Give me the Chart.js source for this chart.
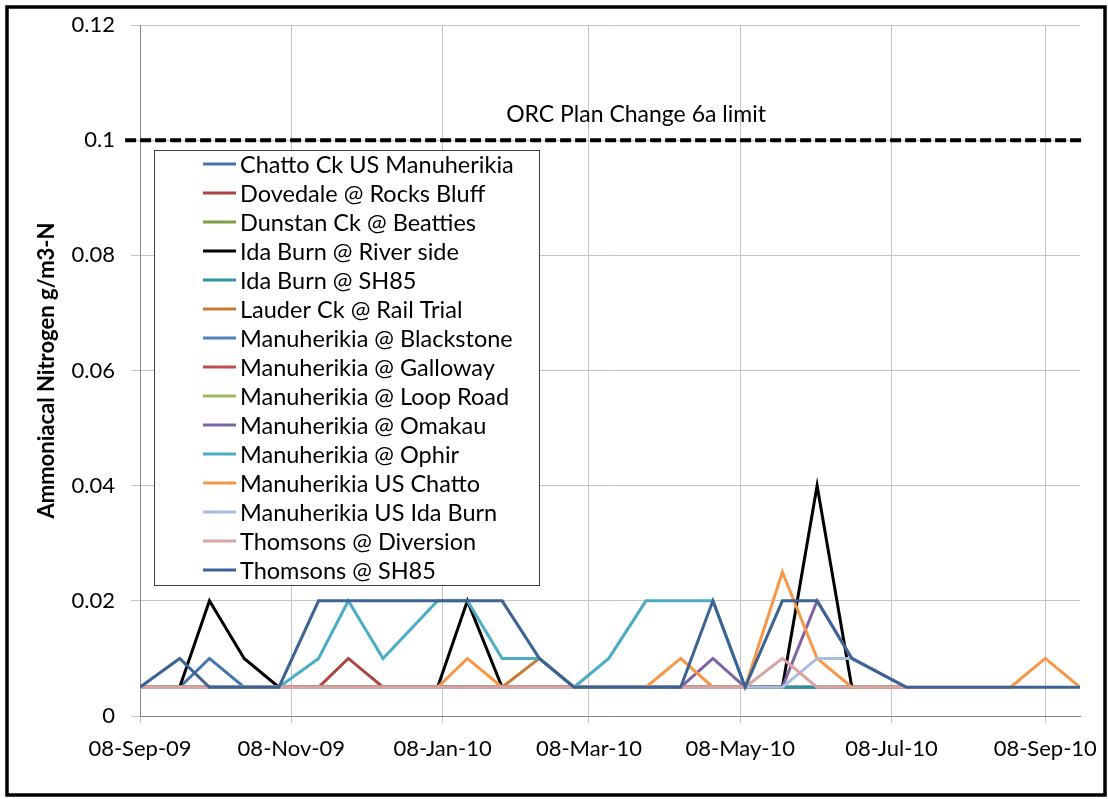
<!DOCTYPE html>
<html>
<head>
<meta charset="utf-8">
<script src="https://cdn.jsdelivr.net/npm/chart.js@4.4.1/dist/chart.umd.min.js"></script>
<style>
  html, body { margin: 0; padding: 0; background: #ffffff; }
  canvas { display: block; }
</style>
</head>
<body>
<canvas id="chart" width="1108" height="799"></canvas>
<script>
// Sampling dates (shared by every monitoring site)
const sampleDates = [
  '2009-09-08','2009-09-24','2009-10-06','2009-10-20','2009-11-03','2009-11-19',
  '2009-12-01','2009-12-15','2010-01-06','2010-01-18','2010-02-01','2010-02-16',
  '2010-03-02','2010-03-16','2010-03-31','2010-04-14','2010-04-27','2010-05-10',
  '2010-05-25','2010-06-08','2010-06-22','2010-07-14','2010-08-25','2010-09-08',
  '2010-09-22'
];

// Date axis ticks
const tickDates  = ['2009-09-08','2009-11-08','2010-01-08','2010-03-08','2010-05-08','2010-07-08','2010-09-08'];
const tickLabels = ['08-Sep-09','08-Nov-09','08-Jan-10','08-Mar-10','08-May-10','08-Jul-10','08-Sep-10'];

// Concentration axis ticks (g/m3-N)
const yTicks      = [0, 0.02, 0.04, 0.06, 0.08, 0.1, 0.12];
const yTickLabels = ['0', '0.02', '0.04', '0.06', '0.08', '0.1', '0.12'];

// Regional plan limit
const limitValue = 0.1;
const limitLabel = 'ORC Plan Change 6a limit';
const limitStart = '2009-09-02';
const limitEnd   = '2010-09-23';

// Ammoniacal nitrogen results per site (null = not sampled)
const chattoCkUsManuherikia = [null,0.005,0.01,0.005,0.005,0.005,0.005,0.005,0.005,0.005,0.005,0.005,0.005,0.005,0.005,0.005,0.005,0.005,0.005,0.005,0.005,0.005,null,null,null];
const dovedaleRocksBluff    = [0.005,0.005,0.005,0.005,0.005,0.005,0.01,0.005,0.005,0.005,0.005,0.005,0.005,0.005,0.005,0.005,0.005,0.005,0.005,0.005,0.005,0.005,null,null,null];
const dunstanCkBeatties     = [0.005,0.005,0.005,0.005,0.005,0.005,0.005,0.005,0.005,0.005,0.005,0.005,0.005,0.005,0.005,0.005,0.005,0.005,0.005,0.005,0.005,0.005,null,null,null];
const idaBurnRiverSide      = [null,0.005,0.02,0.01,0.005,0.005,0.005,0.005,0.005,0.02,0.005,0.005,0.005,0.005,0.005,0.005,0.005,0.005,0.005,0.04,0.005,null,null,null,null];
const idaBurnSH85           = [0.005,0.005,0.005,0.005,0.005,0.005,0.005,0.005,0.005,0.005,0.005,0.005,0.005,0.005,0.005,0.005,0.005,0.005,0.005,0.005,0.005,0.005,null,null,null];
const lauderCkRailTrail     = [0.005,0.005,0.005,0.005,0.005,0.005,0.005,0.005,0.005,0.005,0.005,0.01,0.005,0.005,0.005,0.005,0.005,0.005,null,null,null,null,null,null,null];
const manuherikiaBlackstone = [0.005,0.005,0.005,0.005,0.005,0.005,0.005,0.005,0.005,0.005,0.005,0.005,0.005,0.005,0.005,0.005,0.005,0.005,null,null,null,null,null,null,null];
const manuherikiaGalloway   = [0.005,0.005,0.005,0.005,0.005,0.005,0.005,0.005,0.005,0.005,0.005,0.005,0.005,0.005,0.005,0.005,0.005,0.005,null,null,null,null,null,null,null];
const manuherikiaLoopRoad   = [0.005,0.005,0.005,0.005,0.005,0.005,0.005,0.005,0.005,0.005,0.005,0.005,0.005,0.005,0.005,0.005,0.005,0.005,null,null,null,null,null,null,null];
const manuherikiaOmakau     = [0.005,0.005,0.005,0.005,0.005,0.005,0.005,0.005,0.005,0.005,0.005,0.005,0.005,0.005,0.005,0.005,0.01,0.005,0.005,0.02,0.01,0.005,null,null,null];
const manuherikiaOphir      = [0.005,0.005,0.005,0.005,0.005,0.01,0.02,0.01,0.02,0.02,0.01,0.01,0.005,0.01,0.02,0.02,0.02,0.005,null,null,null,null,null,null,null];
const manuherikiaUsChatto   = [0.005,0.005,0.005,0.005,0.005,0.005,0.005,0.005,0.005,0.01,0.005,0.005,0.005,0.005,0.005,0.01,0.005,0.005,0.025,0.01,0.005,0.005,0.005,0.01,0.005];
const manuherikiaUsIdaBurn  = [0.005,0.005,0.005,0.005,0.005,0.005,0.005,0.005,0.005,0.005,0.005,0.005,0.005,0.005,0.005,0.005,0.005,0.005,0.005,0.01,0.01,0.005,null,null,null];
const thomsonsDiversion     = [0.005,0.005,0.005,0.005,0.005,0.005,0.005,0.005,0.005,0.005,0.005,0.005,0.005,0.005,0.005,0.005,0.005,0.005,0.01,0.005,0.005,0.005,null,null,null];
const thomsonsSH85          = [0.005,0.01,0.005,0.005,0.005,0.02,0.02,0.02,0.02,0.02,0.02,0.01,0.005,0.005,0.005,0.005,0.02,0.005,0.02,0.02,0.01,0.005,0.005,0.005,0.005];

const siteNames = [
  'Chatto Ck US Manuherikia','Dovedale @ Rocks Bluff','Dunstan Ck @ Beatties',
  'Ida Burn @ River side','Ida Burn @ SH85','Lauder Ck @ Rail Trial',
  'Manuherikia @ Blackstone','Manuherikia @ Galloway','Manuherikia @ Loop Road',
  'Manuherikia @ Omakau','Manuherikia @ Ophir','Manuherikia US Chatto',
  'Manuherikia US Ida Burn','Thomsons @ Diversion','Thomsons @ SH85'
];
const siteValues = [
  chattoCkUsManuherikia, dovedaleRocksBluff, dunstanCkBeatties, idaBurnRiverSide,
  idaBurnSH85, lauderCkRailTrail, manuherikiaBlackstone, manuherikiaGalloway,
  manuherikiaLoopRoad, manuherikiaOmakau, manuherikiaOphir, manuherikiaUsChatto,
  manuherikiaUsIdaBurn, thomsonsDiversion, thomsonsSH85
];
const siteColors = [
  '#4474B0','#A94542','#7F9E45','#000000','#2E8FA5','#C87A35',
  '#4F81BD','#C0504D','#9BBB59','#8064A2','#4BACC6','#F79646',
  '#A9BCDC','#D9A3A2','#3C6394'
];

// ---- helpers ----
const DAY = 86400000;
const origin = Date.parse(sampleDates[0]);
const toDay = d => (Date.parse(d) - origin) / DAY;
const tickDays = tickDates.map(toDay);
const lastDay = toDay(sampleDates[sampleDates.length - 1]);

const FONT = 'Lato, "Open Sans", sans-serif';

const siteDatasets = siteNames.map((name, i) => ({
  label: name,
  data: sampleDates.map((d, k) => ({ x: toDay(d), y: siteValues[i][k] })),
  borderColor: siteColors[i],
  backgroundColor: siteColors[i],
  borderWidth: 3,
  pointRadius: 0,
  tension: 0,
  fill: false,
  spanGaps: true,
  order: siteNames.length - i   // later sites are drawn on top
}));

const limitDataset = {
  label: limitLabel,
  data: [{ x: toDay(limitStart), y: limitValue }, { x: toDay(limitEnd), y: limitValue }],
  borderColor: '#000000',
  borderWidth: 4,
  borderDash: [11, 4],
  pointRadius: 0,
  fill: false,
  clip: false,
  order: 0,
  isLimit: true
};

// Legend box drawn inside the plot area
const insideLegend = {
  id: 'insideLegend',
  afterDraw(chart) {
    const ctx = chart.ctx;
    const left = 154, top = 150, width = 385, height = 435;
    ctx.save();
    ctx.fillStyle = '#ffffff';
    ctx.fillRect(left, top, width, height);
    ctx.strokeStyle = '#404040';
    ctx.lineWidth = 1;
    ctx.strokeRect(left + 0.5, top + 0.5, width, height);
    ctx.font = '23.5px ' + FONT;
    ctx.textBaseline = 'middle';
    ctx.fillStyle = '#000000';
    chart.data.datasets.forEach((ds, i) => {
      if (ds.isLimit) return;
      const y = top + 14 + i * 29;
      ctx.strokeStyle = ds.borderColor;
      ctx.lineWidth = 3;
      ctx.beginPath();
      ctx.moveTo(left + 49, y);
      ctx.lineTo(left + 82, y);
      ctx.stroke();
      ctx.fillText(ds.label, left + 86, y + 1);
    });
    ctx.restore();
  }
};

// Limit caption and outer frame
const decorations = {
  id: 'decorations',
  afterDraw(chart) {
    const ctx = chart.ctx;
    const yScale = chart.scales.y;
    const xScale = chart.scales.x;
    ctx.save();
    ctx.font = '23px ' + FONT;
    ctx.fillStyle = '#000000';
    ctx.textAlign = 'center';
    ctx.textBaseline = 'middle';
    ctx.fillText(limitLabel, xScale.getPixelForValue(200), yScale.getPixelForValue(limitValue) - 26);
    ctx.strokeStyle = '#000000';
    ctx.lineWidth = 3.5;
    ctx.strokeRect(7, 7, chart.width - 10, chart.height - 11);
    ctx.restore();
  }
};

new Chart(document.getElementById('chart'), {
  type: 'line',
  data: { datasets: [...siteDatasets, limitDataset] },
  options: {
    responsive: false,
    animation: false,
    devicePixelRatio: 1,
    layout: { padding: { left: 0, right: 28, top: 25, bottom: 0 } },
    plugins: { legend: { display: false }, tooltip: { enabled: false } },
    scales: {
      x: {
        type: 'linear',
        min: 0,
        max: lastDay,
        afterBuildTicks: s => { s.ticks = tickDays.map(v => ({ value: v })); },
        afterFit: s => { s.height = 83; s.paddingLeft = 0; s.paddingRight = 0; },
        grid: { color: '#c4c4c4', lineWidth: 1, tickLength: 7 },
        border: { color: '#868686', width: 1 },
        ticks: {
          autoSkip: false, maxRotation: 0, padding: 13, color: '#000000',
          font: { family: FONT, size: 22 },
          callback: (v, i) => tickLabels[i]
        }
      },
      y: {
        min: 0,
        max: 0.12,
        afterBuildTicks: s => { s.ticks = yTicks.map(v => ({ value: v })); },
        afterFit: s => { s.width = 140; s.paddingTop = 0; s.paddingBottom = 0; },
        grid: { color: '#c4c4c4', lineWidth: 1, tickLength: 9 },
        border: { color: '#868686', width: 1 },
        ticks: {
          padding: 16, color: '#000000',
          font: { family: FONT, size: 22 },
          callback: (v, i) => yTickLabels[i]
        },
        title: {
          display: true,
          text: 'Ammoniacal Nitrogen g/m3-N',
          color: '#000000',
          font: { family: FONT, size: 22, weight: 'bold' },
          padding: { top: 34, bottom: 0 }
        }
      }
    }
  },
  plugins: [insideLegend, decorations]
});
</script>
</body>
</html>
